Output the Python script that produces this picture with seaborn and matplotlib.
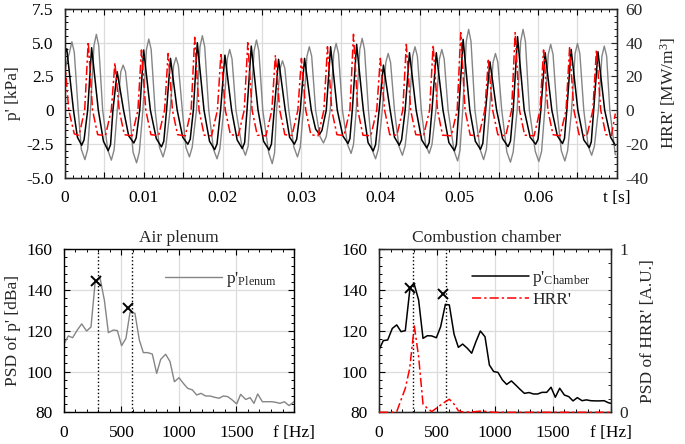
import numpy as np
import seaborn as sns
import matplotlib.pyplot as plt
from matplotlib.ticker import MultipleLocator, FixedLocator, FixedFormatter

# ---- time series (t in ms) ----
# chamber pressure p' [kPa]
t_chamber = [0.0, 0.25, 1.1, 1.6, 2.14, 2.44, 2.9, 3.4,
             4.25, 4.9, 5.5, 5.8, 6.1, 6.64,
             7.45, 8.1, 8.75, 9.05, 9.5, 10.0,
             10.85, 11.6, 12.25, 12.55, 12.9, 13.4,
             14.25, 14.95, 15.6, 15.9, 16.3, 16.8,
             17.65, 18.35, 19.0, 19.3, 19.75, 20.3,
             21.15, 21.85, 22.5, 22.8, 23.1, 23.64,
             24.5, 25.2, 25.9, 26.2, 26.55, 27.1,
             27.95, 28.5, 29.1, 29.4, 29.85, 30.4,
             31.25, 31.8, 32.3, 32.6, 33.15, 33.7,
             34.55, 35.25, 35.9, 36.15, 36.45, 37.0,
             37.85, 38.45, 39.1, 39.4, 39.85, 40.4,
             41.25, 41.8, 42.4, 42.7, 43.15, 43.7,
             44.55, 45.25, 45.9, 46.2, 46.55, 47.1,
             47.95, 48.7, 49.4, 49.65, 49.95, 50.5,
             51.35, 52.05, 52.7, 53.0, 53.35, 53.9,
             54.75, 55.5, 56.2, 56.5, 56.85, 57.4,
             58.25, 59.0, 59.7, 60.0, 60.35, 60.9,
             61.75, 62.45, 63.1, 63.35, 63.65, 64.2,
             65.05, 65.8, 66.5, 66.75, 67.05, 67.6,
             68.45, 69.2, 69.8]
p_chamber = [4.2, 4.55, 0.0, -2.0, -2.6, -2.2, 0.0, 4.63,
             0.0, -2.3, -3.0, -2.55, 0.0, 2.85,
             0.0, -1.9, -2.43, -2.05, 0.0, 4.46,
             0.0, -2.1, -2.72, -2.3, 0.0, 3.84,
             0.0, -2.0, -2.52, -2.15, 0.0, 5.0,
             0.0, -2.3, -2.92, -2.5, 0.0, 4.08,
             0.0, -2.2, -2.84, -2.4, 0.0, 4.75,
             0.0, -2.3, -2.95, -2.5, 0.0, 3.77,
             0.0, -2.0, -2.52, -2.15, 0.0, 3.84,
             0.0, -1.4, -1.78, -1.5, 0.0, 4.7,
             0.0, -1.9, -2.47, -2.1, 0.0, 4.88,
             0.0, -2.4, -3.02, -2.55, 0.0, 3.34,
             0.0, -2.0, -2.6, -2.2, 0.0, 4.26,
             0.0, -2.2, -2.8, -2.4, 0.0, 4.26,
             0.0, -2.4, -3.0, -2.55, 0.0, 5.25,
             0.0, -2.3, -2.9, -2.45, 0.0, 3.59,
             0.0, -2.1, -2.7, -2.3, 0.0, 5.45,
             0.0, -2.0, -2.52, -2.15, 0.0, 4.26,
             0.0, -1.9, -2.47, -2.1, 0.0, 4.5,
             0.0, -2.2, -2.77, -2.35, 0.0, 4.33,
             0.0, -2.0, -2.6]

# plenum pressure p' [kPa]
t_plenum = [0.0, 0.6, 0.9, 1.2, 1.7,
            2.1, 2.55, 2.9, 3.25, 3.7, 4.0, 4.3, 4.8,
            5.45, 5.9, 6.25, 6.65, 7.1, 7.4, 7.7, 8.2,
            8.65, 9.1, 9.45, 9.9, 10.35, 10.65, 10.95, 11.45,
            12.0, 12.46, 12.8, 13.35, 13.8, 14.1, 14.4, 14.9,
            15.35, 15.8, 16.15, 16.7, 17.14, 17.44, 17.74, 18.25,
            18.85, 19.3, 19.65, 20.15, 20.6, 20.9, 21.2, 21.7,
            22.45, 22.9, 23.25, 23.55, 24.0, 24.3, 24.6, 25.1,
            25.85, 26.3, 26.6, 26.85, 27.3, 27.6, 27.9, 28.4,
            29.05, 29.5, 29.85, 30.25, 30.7, 31.0, 31.3, 31.8,
            32.35, 32.8, 33.15, 33.65, 34.1, 34.4, 34.7, 35.2,
            35.85, 36.3, 36.6, 36.95, 37.4, 37.7, 38.0, 38.5,
            38.95, 39.4, 39.75, 40.25, 40.7, 41.0, 41.3, 41.8,
            42.35, 42.8, 43.15, 43.65, 44.1, 44.4, 44.7, 45.2,
            45.75, 46.2, 46.55, 47.05, 47.5, 47.8, 48.1, 48.6,
            49.35, 49.8, 50.1, 50.45, 50.9, 51.2, 51.5, 52.0,
            52.65, 53.1, 53.45, 53.85, 54.3, 54.6, 54.9, 55.4,
            56.05, 56.5, 56.85, 57.35, 57.8, 58.1, 58.4, 58.9,
            59.65, 60.1, 60.45, 60.85, 61.3, 61.6, 61.9, 62.4,
            62.95, 63.4, 63.75, 64.25, 64.7, 65.0, 65.3, 65.8,
            66.35, 66.8, 67.15, 67.65, 68.1, 68.4, 68.7, 69.1,
            69.8]
p_plenum = [3.0, 4.3, 5.07, 4.3, 0.0,
            -2.9, -3.66, -2.9, 0.0, 4.8, 5.62, 4.8, 0.0,
            -2.95, -3.7, -2.95, 0.0, 2.85, 3.34, 2.85, 0.0,
            -3.1, -3.9, -3.1, 0.0, 4.5, 5.27, 4.5, 0.0,
            -2.75, -3.46, -2.75, 0.0, 3.3, 3.91, 3.3, 0.0,
            -2.75, -3.46, -2.75, 0.0, 4.7, 5.52, 4.7, 0.0,
            -2.9, -3.6, -2.9, 0.0, 3.8, 4.5, 3.8, 0.0,
            -2.65, -3.34, -2.65, 0.0, 4.4, 5.2, 4.4, 0.0,
            -3.15, -3.96, -3.15, 0.0, 3.1, 3.66, 3.1, 0.0,
            -2.75, -3.46, -2.75, 0.0, 4.0, 4.7, 4.0, 0.0,
            -1.95, -2.43, -1.95, 0.0, 4.2, 4.95, 4.2, 0.0,
            -2.55, -3.2, -2.55, 0.0, 4.5, 5.32, 4.5, 0.0,
            -2.9, -3.6, -2.9, 0.0, 3.55, 4.2, 3.55, 0.0,
            -2.65, -3.34, -2.65, 0.0, 4.0, 4.7, 4.0, 0.0,
            -2.55, -3.2, -2.55, 0.0, 3.8, 4.5, 3.8, 0.0,
            -3.0, -3.76, -3.0, 0.0, 5.1, 5.99, 5.1, 0.0,
            -2.9, -3.66, -2.9, 0.0, 3.55, 4.2, 3.55, 0.0,
            -3.1, -3.85, -3.1, 0.0, 5.1, 5.99, 5.1, 0.0,
            -3.05, -3.8, -3.05, 0.0, 4.15, 4.88, 4.15, 0.0,
            -3.0, -3.76, -3.0, 0.0, 4.2, 4.95, 4.2, 0.0,
            -2.65, -3.34, -2.65, 0.0, 4.0, 4.75, 4.0, 0.0,
            -3.3]

# heat release rate HRR' [MW/m^3]
t_hrr = [0.0, 0.5, 1.2, 1.8, 2.52, 2.97,
         3.52, 4.17, 5.15, 5.9, 6.35,
         6.9, 7.55, 8.52, 9.27, 9.72,
         10.27, 10.92, 11.9, 12.65, 13.1,
         13.65, 14.3, 15.27, 16.02, 16.47,
         17.02, 17.67, 18.6, 19.35, 19.8,
         20.35, 21.0, 22.0, 22.75, 23.2,
         23.75, 24.4, 25.5, 26.25, 26.7,
         27.25, 27.9, 28.8, 29.55, 30.0,
         30.55, 31.2, 32.1, 32.85, 33.3,
         33.85, 34.5, 35.4, 36.15, 36.6,
         37.15, 37.8, 38.8, 39.55, 40.0,
         40.55, 41.2, 42.1, 42.85, 43.3,
         43.85, 44.5, 45.5, 46.25, 46.7,
         47.25, 47.9, 49.0, 49.75, 50.2,
         50.75, 51.4, 52.5, 53.25, 53.7,
         54.25, 54.9, 55.9, 56.65, 57.1,
         57.65, 58.3, 59.5, 60.25, 60.7,
         61.25, 61.9, 62.8, 63.55, 64.0,
         64.55, 65.2, 66.2, 66.95, 67.4,
         67.95, 68.6, 69.3, 69.8]
hrr = [29.6, 0.0, -14.0, -15.0, 0.0, 40.6,
       0.0, -14.5, -15.0, 0.0, 28.1,
       0.0, -14.5, -15.2, 0.0, 35.7,
       0.0, -14.5, -15.0, 0.0, 33.6,
       0.0, -14.5, -15.2, 0.0, 43.2,
       0.0, -14.8, -15.2, 0.0, 34.0,
       0.0, -14.5, -15.0, 0.0, 40.0,
       0.0, -14.8, -15.2, 0.0, 32.6,
       0.0, -14.5, -15.0, 0.0, 30.7,
       0.0, -14.5, -15.2, 0.0, 37.6,
       0.0, -14.5, -15.0, 0.0, 45.0,
       0.0, -14.8, -15.2, 0.0, 30.7,
       0.0, -14.5, -14.8, 0.0, 39.0,
       0.0, -14.5, -14.8, 0.0, 38.6,
       0.0, -14.8, -15.2, 0.0, 46.0,
       0.0, -14.8, -15.2, 0.0, 29.6,
       0.0, -14.5, -15.2, 0.0, 46.0,
       0.0, -14.8, -15.2, 0.0, 35.7,
       0.0, -14.5, -15.2, 0.0, 37.0,
       0.0, -14.5, -15.2, 0.0, 35.7,
       0.0, -14.5, -15.0, -2.0]

# ---- spectra ----
f_plenum = [0, 38, 75, 116, 154, 197, 235, 270, 313, 351, 386, 429, 464, 501,
            539, 574, 617, 655, 690, 728, 768, 806, 841, 884, 922, 960, 1000,
            1038, 1075, 1116, 1154, 1191, 1232, 1270, 1307, 1348, 1386, 1423,
            1464, 1502, 1536, 1580, 1618, 1652, 1684, 1725, 1763, 1806, 1841,
            1879, 1916, 1957, 2000]
psd_plenum = [113.5, 117.5, 116.6, 120.4, 123.4, 119.9, 121.9, 143.3, 146.1,
              135.1, 119.1, 120.4, 120.1, 112.7, 116.3, 129.1, 128.6, 115.5,
              109.3, 109.3, 108.6, 99.1, 106.0, 108.5, 104.9, 95.0, 97.0, 94.2,
              91.8, 91.0, 88.5, 89.3, 88.0, 88.0, 87.4, 86.9, 88.0, 87.7, 86.0,
              84.1, 88.8, 86.3, 87.2, 84.4, 89.0, 85.2, 85.2, 85.2, 84.9, 84.4,
              85.2, 83.3, 85.2]

f_chamber = [0, 37, 75, 115, 153, 190, 227, 268, 302, 342, 380, 417, 455, 495,
             532, 573, 607, 648, 685, 722, 763, 800, 837, 875, 915, 953, 990,
             1027, 1065, 1102, 1143, 1180, 1217, 1255, 1295, 1333, 1370, 1407,
             1448, 1485, 1522, 1560, 1600, 1638, 1675, 1712, 1753, 1790, 1828,
             1865, 1905, 1943, 1980, 2000]
psd_chamber = [110.6, 115.2, 115.5, 121.2, 122.9, 119.6, 120.1, 141.2, 143.3,
               135.1, 116.3, 117.6, 117.5, 116.6, 122.0, 133.0, 132.7, 118.3,
               111.9, 113.5, 111.4, 109.0, 114.7, 119.9, 117.1, 103.2, 100.0,
               99.6, 95.9, 93.7, 95.4, 93.4, 91.3, 89.3, 89.7, 89.0, 89.0, 89.8,
               89.8, 92.3, 87.4, 91.8, 88.5, 87.7, 85.6, 87.2, 85.7, 86.1, 85.7,
               85.6, 85.6, 85.7, 84.7, 84.4]

f_hrr = [0, 37, 75, 115, 153, 190, 227, 265, 305, 342, 380, 417, 455, 495, 532,
         573, 607, 648, 685, 722, 800, 875, 915, 953, 1000, 2000]
psd_hrr = [0.0, 0.0, 0.0, 0.0, 0.004, 0.076, 0.147, 0.27, 0.53, 0.34, 0.05,
           0.025, 0.004, 0.025, 0.045, 0.065, 0.08, 0.05, 0.01, 0.002, 0.002,
           0.007, 0.006, 0.002, 0.0, 0.0]

peak_plenum_f = [278, 560]
peak_plenum_db = [144.6, 131.0]
peak_chamber_f = [268, 555]
peak_chamber_db = [141.2, 138.0]
dotted_plenum = [293, 588]
dotted_chamber = [291, 578]

top_xticks = [0, 0.005, 0.01, 0.015, 0.02, 0.025, 0.03, 0.035, 0.04, 0.045,
              0.05, 0.055, 0.06, 0.065, 0.07]
top_xlabels = ["0", "", "0.01", "", "0.02", "", "0.03", "", "0.04", "", "0.05",
               "", "0.06", "", "t [s]"]
p_ticks = [-5.0, -2.5, 0, 2.5, 5.0, 7.5]
p_labels = ["-5.0", "-2.5", "0", "2.5", "5.0", "7.5"]
hrr_ticks = [-40, -20, 0, 20, 40, 60]
f_ticks = [0, 500, 1000, 1500, 2000]
f_labels = ["0", "500", "1000", "1500", "f [Hz]"]
psd_ticks = [80, 100, 120, 140, 160]

# ---- style ----
sns.set_style("ticks")
plt.rcParams['font.family'] = ['Liberation Serif', 'DejaVu Serif']
plt.rcParams['mathtext.fontset'] = 'custom'
plt.rcParams['mathtext.rm'] = 'Liberation Serif'
plt.rcParams['mathtext.it'] = 'Liberation Serif:italic'
plt.rcParams['axes.unicode_minus'] = False
plt.rcParams['font.size'] = 12.5

GRAY = '#858585'
GRID = '#dcdcdc'
RED = '#ff0000'
HRR_LS = (0, (6, 2, 1.5, 2))

fig = plt.figure(figsize=(6.85, 4.44), dpi=100)


def style_axis(ax, right=True):
    ax.grid(True, which='major', color=GRID, lw=0.9)
    ax.set_axisbelow(True)
    for s in ax.spines.values():
        s.set_linewidth(1.0)
        s.set_color('black')
    ax.tick_params(which='both', direction='in', top=True, right=right,
                   colors='black', labelsize=12.5)
    ax.tick_params(which='major', length=4, width=0.8)
    ax.tick_params(which='minor', length=2.2, width=0.7)
    ax.tick_params(axis='x', which='both', pad=9)
    ax.tick_params(axis='y', which='both', pad=8)


# ---- top: time series ----
ax = fig.add_axes([0.0946, 0.5998, 0.806, 0.38])
sns.lineplot(x=np.array(t_plenum) / 1000, y=p_plenum, ax=ax, color=GRAY,
             lw=1.0)
sns.lineplot(x=np.array(t_chamber) / 1000, y=p_chamber, ax=ax, color='black',
             lw=1.1)
ax.set_xlim(0, 0.07)
ax.set_ylim(-5, 7.5)
ax.xaxis.set_major_locator(FixedLocator(top_xticks))
ax.xaxis.set_major_formatter(FixedFormatter(top_xlabels))
ax.xaxis.set_minor_locator(MultipleLocator(0.001))
ax.yaxis.set_major_locator(FixedLocator(p_ticks))
ax.yaxis.set_major_formatter(FixedFormatter(p_labels))
ax.yaxis.set_minor_locator(MultipleLocator(0.5))
ax.set_ylabel("p' [kPa]", labelpad=4)
style_axis(ax, right=False)

ax2 = ax.twinx()
sns.lineplot(x=np.array(t_hrr) / 1000, y=hrr, ax=ax2, color=RED, lw=1.1,
             linestyle=HRR_LS)
ax2.set_xlim(0, 0.07)
ax2.set_ylim(-40, 60)
ax2.yaxis.set_major_locator(FixedLocator(hrr_ticks))
ax2.yaxis.set_minor_locator(MultipleLocator(4))
ax2.set_ylabel("HRR' [MW/m$^3$]", labelpad=7)
ax2.tick_params(which='both', direction='in', labelsize=12.5, pad=6)
ax2.tick_params(which='major', length=4, width=0.8)
ax2.tick_params(which='minor', length=2.2, width=0.7)

# ---- bottom left: plenum PSD ----
bl = fig.add_axes([0.0934, 0.0714, 0.3358, 0.367])
for fx in dotted_plenum:
    bl.axvline(fx, color='black', ls=':', lw=1.0)
sns.lineplot(x=f_plenum, y=psd_plenum, ax=bl, color=GRAY, lw=1.0,
             label="p'$_{\\rm Plenum}$")
bl.plot(peak_plenum_f, peak_plenum_db, 'x', color='black', ms=7, mew=1.4)
bl.set_xlim(0, 2000)
bl.set_ylim(80, 160)
bl.xaxis.set_major_locator(FixedLocator(f_ticks))
bl.xaxis.set_major_formatter(FixedFormatter(f_labels))
bl.xaxis.set_minor_locator(MultipleLocator(100))
bl.yaxis.set_major_locator(FixedLocator(psd_ticks))
bl.yaxis.set_minor_locator(MultipleLocator(4))
bl.set_ylabel("PSD of p' [dBa]", labelpad=4)
bl.set_title("Air plenum", fontsize=12.5, pad=5)
style_axis(bl)
bl.legend(loc='center left', bbox_to_anchor=(0.44, 0.815), frameon=False,
          handlelength=3.3, handletextpad=0.2, borderpad=0, borderaxespad=0,
          fontsize=12.5)

# ---- bottom right: chamber PSD ----
br = fig.add_axes([0.5533, 0.0714, 0.3382, 0.367])
for fx in dotted_chamber:
    br.axvline(fx, color='black', ls=':', lw=1.0)
sns.lineplot(x=f_chamber, y=psd_chamber, ax=br, color='black', lw=1.1,
             label="p'$_{\\rm Chamber}$", legend=False)
br.plot(peak_chamber_f, peak_chamber_db, 'x', color='black', ms=7, mew=1.4)
br.set_xlim(0, 2000)
br.set_ylim(80, 160)
br.xaxis.set_major_locator(FixedLocator(f_ticks))
br.xaxis.set_major_formatter(FixedFormatter(f_labels))
br.xaxis.set_minor_locator(MultipleLocator(100))
br.yaxis.set_major_locator(FixedLocator(psd_ticks))
br.yaxis.set_minor_locator(MultipleLocator(4))
br.set_title("Combustion chamber", fontsize=12.5, pad=5, x=0.465)
style_axis(br, right=False)

br2 = br.twinx()
sns.lineplot(x=f_hrr, y=psd_hrr, ax=br2, color=RED, lw=1.1,
             linestyle=HRR_LS, label="HRR'", legend=False, clip_on=False,
             zorder=5)
br2.set_ylim(0, 1)
br2.yaxis.set_major_locator(FixedLocator([0, 1]))
br2.yaxis.set_minor_locator(MultipleLocator(1 / 12))
br2.set_ylabel("PSD of HRR' [A.U.]", labelpad=9)
br2.tick_params(which='both', direction='in', labelsize=12.5, pad=6)
br2.tick_params(which='major', length=4, width=0.8)
br2.tick_params(which='minor', length=2.2, width=0.7)

h1, l1 = br.get_legend_handles_labels()
h2, l2 = br2.get_legend_handles_labels()
br2.legend(h1 + h2, l1 + l2, loc='center left', bbox_to_anchor=(0.4, 0.76),
           frameon=False, handlelength=3.3, handletextpad=0.2, borderpad=0,
           borderaxespad=0, labelspacing=0.25, fontsize=12.5)

fig.savefig("out.png", dpi=100)
